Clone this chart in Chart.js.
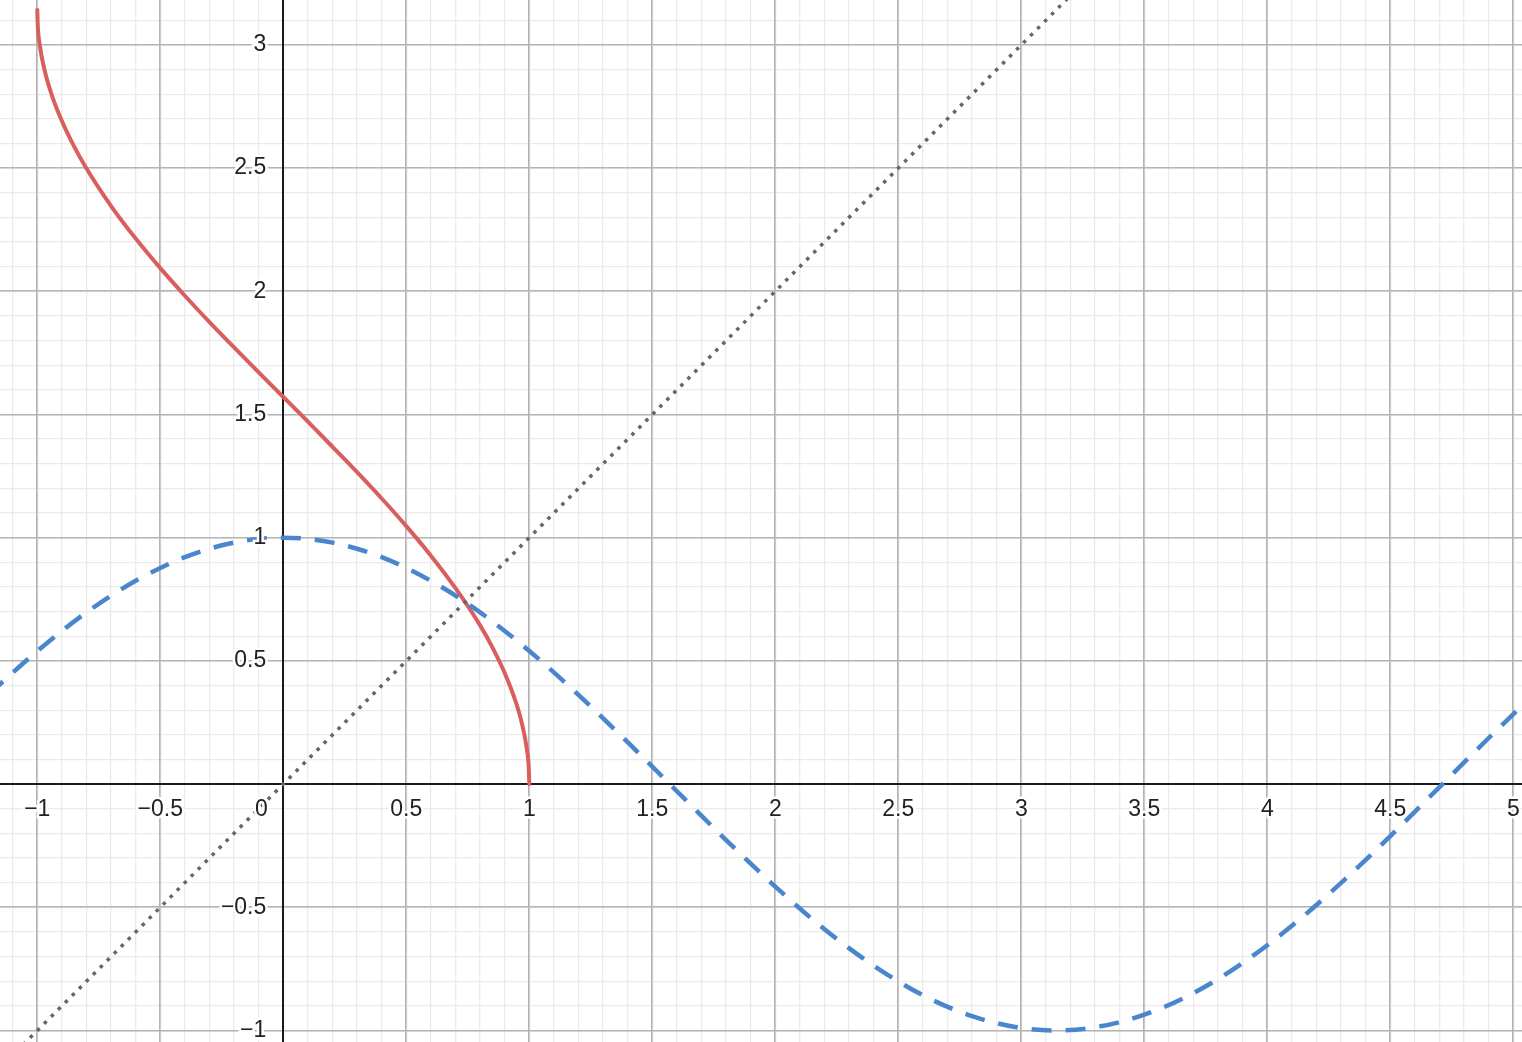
<!DOCTYPE html>
<html>
<head>
<meta charset="utf-8">
<script src="https://cdn.jsdelivr.net/npm/chart.js@4/dist/chart.umd.min.js"></script>
<style>
  html, body { margin: 0; padding: 0; background: #fff; overflow: hidden; }
  canvas { display: block; }
</style>
</head>
<body>
<canvas id="graph" width="1522" height="1042"></canvas>
<script>
// red curve, y = arccos(x)
const acosX = [-1, -0.998, -0.99, -0.97, -0.94, -0.9, -0.85, -0.8, -0.7, -0.6, -0.5, -0.4, -0.3, -0.2, -0.1,
  0, 0.1, 0.2, 0.3, 0.4, 0.5, 0.6, 0.7, 0.8, 0.85, 0.9, 0.94, 0.97, 0.99, 0.998, 1]
const acosY = [3.142, 3.078, 3.000, 2.896, 2.793, 2.691, 2.587, 2.498, 2.346, 2.214, 2.094, 1.982, 1.875, 1.772, 1.671,
  1.571, 1.471, 1.369, 1.266, 1.159, 1.047, 0.927, 0.795, 0.644, 0.555, 0.451, 0.348, 0.246, 0.142, 0.063, 0]

// dashed blue curve, y = cos(x)
const cosX = [-1.2, -1, -0.8, -0.6, -0.4, -0.2, 0, 0.2, 0.4, 0.6, 0.8, 1, 1.2, 1.4, 1.6, 1.8,
  2, 2.2, 2.4, 2.6, 2.8, 3, 3.14, 3.3, 3.5, 3.7, 3.9, 4.1, 4.3, 4.5, 4.7, 4.9, 5.1, 5.3]
const cosY = [0.362, 0.540, 0.697, 0.825, 0.921, 0.980, 1, 0.980, 0.921, 0.825, 0.697, 0.540, 0.362, 0.170, -0.029, -0.227,
  -0.416, -0.589, -0.737, -0.857, -0.942, -0.990, -1.000, -0.987, -0.936, -0.848, -0.726, -0.575, -0.401, -0.211, -0.012, 0.187, 0.378, 0.554]

// dotted grey line, y = x
const diagX = [-1.2, 3.3]
const diagY = [-1.2, 3.3]

const xTicks = [-1, -0.5, 0, 0.5, 1, 1.5, 2, 2.5, 3, 3.5, 4, 4.5, 5]
const yTicks = [-1, -0.5, 0, 0.5, 1, 1.5, 2, 2.5, 3]

const xMin = -1.1516
const xMax = 5.0354
const yMin = -1.0467
const yMax = 3.1822

const labelFont = {family: '"Liberation Sans", Arial, sans-serif', size: 23}

function fmt(v) {
  const r = Math.round(v * 10) / 10
  return String(r).replace('-', '\u2212')
}

function zeroPad(scale) {
  scale.paddingLeft = 0
  scale.paddingRight = 0
  scale.paddingTop = 0
  scale.paddingBottom = 0
}

function points(xs, ys) {
  return xs.map((x, i) => ({x: x, y: ys[i]}))
}

function minorScale(axis, min, max, pos) {
  return {
    type: 'linear',
    axis: axis,
    min: min,
    max: max,
    position: pos,
    afterFit: zeroPad,
    border: {display: false},
    grid: {color: '#ebebeb', lineWidth: 1.3, drawTicks: false, z: -2},
    ticks: {display: false, stepSize: 0.1, includeBounds: false}
  }
}

function majorScale(axis, min, max, pos, values, pad) {
  return {
    type: 'linear',
    axis: axis,
    min: min,
    max: max,
    position: pos,
    afterFit: zeroPad,
    afterBuildTicks: s => { s.ticks = values.map(v => ({value: v})) },
    border: {display: true, color: '#1a1a1a', width: 2, z: 0},
    grid: {color: '#b4b4b4', lineWidth: 1.6, drawTicks: true, tickLength: pad, tickColor: 'rgba(0,0,0,0)', z: -1},
    ticks: {
      padding: 0,
      autoSkip: false,
      maxRotation: 0,
      minRotation: 0,
      color: '#222',
      font: labelFont,
      textStrokeColor: '#ffffff',
      textStrokeWidth: 5,
      z: 1,
      callback: v => {
        if (v === 0) return axis === 'x' ? '0' : ''
        return fmt(v)
      }
    }
  }
}

// y labels sit a little left of the y axis, the origin "0" left of the x=0 line
const labelShift = {
  id: 'labelShift',
  beforeDraw(chart) {
    chart.scales.y.getLabelItems(chart.chartArea).forEach(it => {
      if (!it.shifted) {
        it.options.translation[0] -= 17
        it.shifted = true
      }
    })
    chart.scales.x.getLabelItems(chart.chartArea).forEach(it => {
      if (it.label === '0' && !it.shifted) {
        it.options.translation[0] -= 22
        it.shifted = true
      }
    })
  }
}

new Chart(document.getElementById('graph'), {
  type: 'scatter',
  data: {
    datasets: [
      {
        data: points(diagX, diagY),
        xAxisID: 'x',
        yAxisID: 'y',
        showLine: true,
        pointRadius: 0,
        borderColor: '#666666',
        borderWidth: 3.5,
        borderDash: [3.5, 6.4],
        borderCapStyle: 'butt'
      },
      {
        data: points(cosX, cosY),
        xAxisID: 'x',
        yAxisID: 'y',
        showLine: true,
        pointRadius: 0,
        borderColor: '#4a86ce',
        borderWidth: 4.5,
        borderDash: [20, 14],
        borderCapStyle: 'butt',
        cubicInterpolationMode: 'monotone'
      },
      {
        data: points(acosX, acosY),
        xAxisID: 'x',
        yAxisID: 'y',
        showLine: true,
        pointRadius: 0,
        borderColor: '#d95f5f',
        borderWidth: 4,
        borderCapStyle: 'round',
        borderJoinStyle: 'round',
        cubicInterpolationMode: 'monotone'
      }
    ]
  },
  options: {
    responsive: false,
    animation: false,
    events: [],
    layout: {padding: 0},
    plugins: {legend: {display: false}, tooltip: {enabled: false}},
    scales: {
      x2: minorScale('x', xMin, xMax, {y: 0}),
      y2: minorScale('y', yMin, yMax, {x: 0}),
      x: majorScale('x', xMin, xMax, {y: 0}, xTicks, 12),
      y: majorScale('y', yMin, yMax, {x: 0}, yTicks, 16)
    }
  },
  plugins: [labelShift]
})
</script>
</body>
</html>
